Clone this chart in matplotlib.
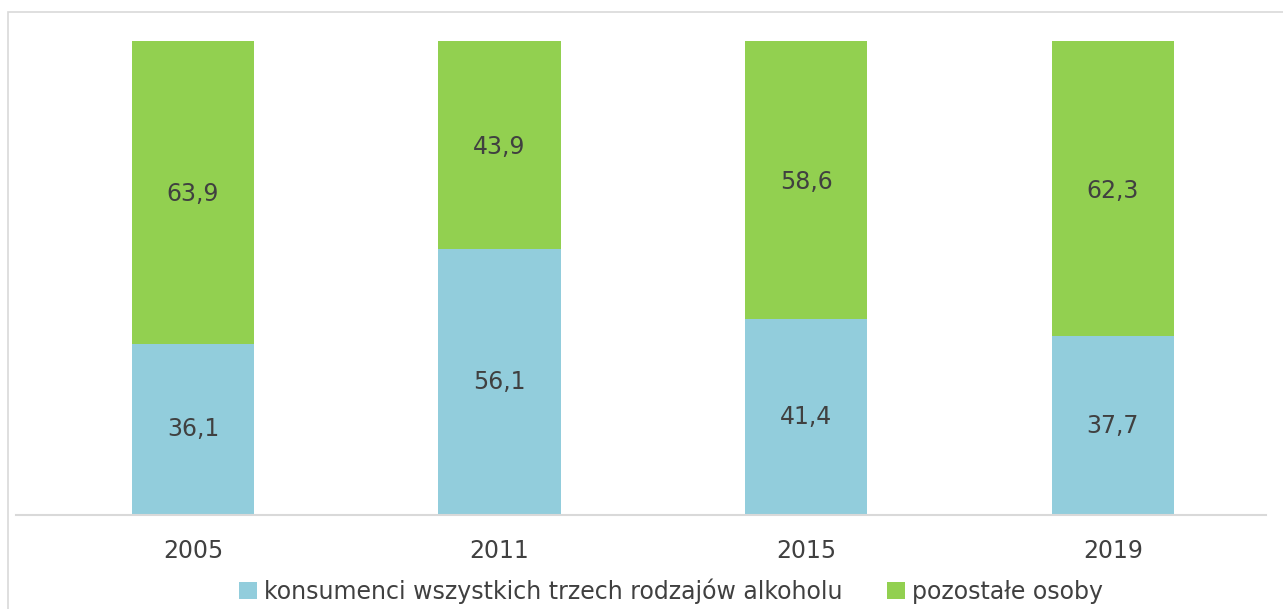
import matplotlib
matplotlib.use("Agg")
import matplotlib.pyplot as plt
from matplotlib.patches import Rectangle

years = ["2005", "2011", "2015", "2019"]
konsumenci = [36.1, 56.1, 41.4, 37.7]
pozostale = [63.9, 43.9, 58.6, 62.3]
series_names = ["konsumenci wszystkich trzech rodzajów alkoholu", "pozostałe osoby"]

blue = "#92CDDC"
green = "#92D050"
txt = "#404040"

W, H = 1283, 609
fig = plt.figure(figsize=(W / 100, H / 100), dpi=100)
fig.patch.set_facecolor("white")

# outer chart frame (partially cut off in the original)
fig.patches.append(Rectangle((8 / W, -0.1), 1.2, 1 - 12 / H + 0.1, transform=fig.transFigure,
                             fill=False, edgecolor="#d9d9d9", linewidth=1.2))

ax = fig.add_axes([16 / W, 1 - 515 / H, 1250 / W, 474 / H])
x = list(range(len(years)))
bw = 0.398
b1 = ax.bar(x, konsumenci, bw, color=blue, label=series_names[0])
b2 = ax.bar(x, pozostale, bw, bottom=konsumenci, color=green, label=series_names[1])

for i in x:
    ax.text(i, konsumenci[i] / 2, f"{konsumenci[i]:.1f}".replace(".", ","),
            ha="center", va="center", fontsize=17, color=txt)
    ax.text(i, konsumenci[i] + pozostale[i] / 2 - 0.4, f"{pozostale[i]:.1f}".replace(".", ","),
            ha="center", va="center", fontsize=17, color=txt)

ax.set_ylim(0, 100)
ax.set_xlim(-0.577, 3.5)
ax.set_xticks(x)
ax.set_xticklabels(years, fontsize=17, color=txt)
ax.tick_params(axis="x", length=0, pad=17)
ax.set_yticks([])
for s in ["left", "right", "top"]:
    ax.spines[s].set_visible(False)
ax.spines["bottom"].set_color("#d9d9d9")
ax.spines["bottom"].set_linewidth(1.5)

leg = fig.legend(handles=[b1, b2], loc="center", bbox_to_anchor=(671 / W, 1 - 591 / H),
                 ncol=2, frameon=False, fontsize=17, handlelength=0.76, handleheight=0.76,
                 handletextpad=0.3, columnspacing=1.9, borderpad=0)
for t in leg.get_texts():
    t.set_color(txt)

fig.savefig("out.png", dpi=100)
